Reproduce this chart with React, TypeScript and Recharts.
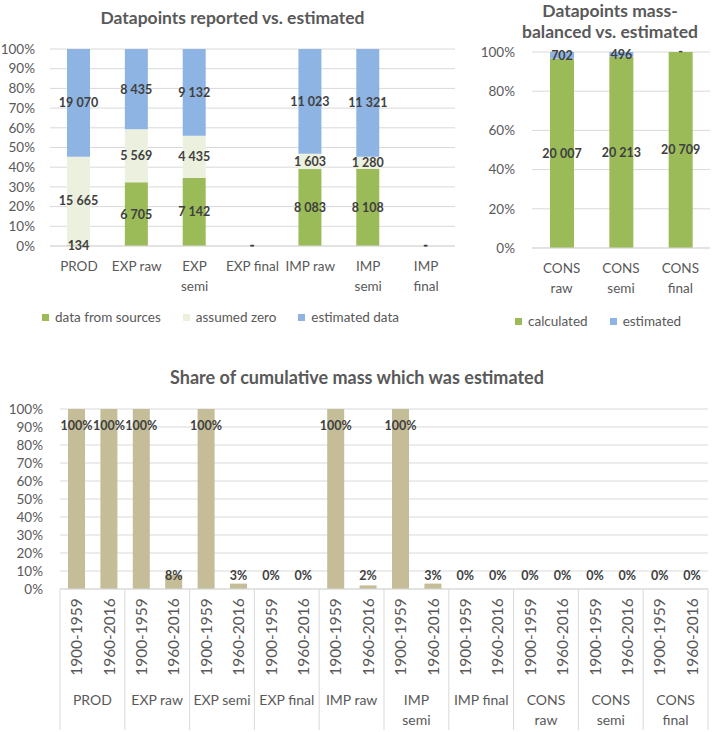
import React from 'react';
import { BarChart, Bar, XAxis, YAxis, CartesianGrid, Legend, LabelList } from 'recharts';

const FONT = 'Lato, "Open Sans", sans-serif';
const AXIS_GREY = '#595959';
const LABEL_GREY = '#404040';
const GRID = '#D9D9D9';

// top-left: datapoints reported vs. estimated
const reportedCats = ['PROD', 'EXP raw', 'EXP\nsemi', 'EXP final', 'IMP raw', 'IMP\nsemi', 'IMP\nfinal'];
const fromSources = [134, 6705, 7142, 0, 8083, 8108, 0];
const assumedZero = [15665, 5569, 4435, 0, 1603, 1280, 0];
const estimatedData = [19070, 8435, 9132, 0, 11023, 11321, 0];

// top-right: mass-balanced vs. estimated
const consCats = ['CONS\nraw', 'CONS\nsemi', 'CONS\nfinal'];
const calculated = [20007, 20213, 20709];
const consEstimated = [702, 496, 0];

// bottom: share of cumulative mass estimated
const groups = ['PROD', 'EXP raw', 'EXP semi', 'EXP final', 'IMP raw', 'IMP\nsemi', 'IMP final', 'CONS\nraw', 'CONS\nsemi', 'CONS\nfinal'];
const periods = ['1900-1959', '1960-2016'];
const shareEstimated = [1, 1, 1, 0.08, 1, 0.03, 0, 0, 1, 0.02, 1, 0.03, 0, 0, 0, 0, 0, 0, 0, 0];

const pct10 = [0, 0.1, 0.2, 0.3, 0.4, 0.5, 0.6, 0.7, 0.8, 0.9, 1];
const pct20 = [0, 0.2, 0.4, 0.6, 0.8, 1];

const reportedData = reportedCats.map((c, i) => ({
  name: c, sources: fromSources[i], zero: assumedZero[i], estimated: estimatedData[i],
}));
const consData = consCats.map((c, i) => ({ name: c, calculated: calculated[i], estimated: consEstimated[i] }));
const shareData = groups.flatMap((g, gi) =>
  periods.map((p, pi) => ({ period: p, group: g, share: shareEstimated[gi * 2 + pi] })),
);

// thousands separated by a non-breaking space so labels do not wrap
const fmtNum = (v: any) => (Number(v) === 0 ? '-' : String(v).replace(/\B(?=(\d{3})+(?!\d))/g, '\u00A0'));
const fmtPct = (v: number) => `${Math.round(v * 100)}%`;

const MultiLineTick = ({ x, y, payload }: any) => {
  const lines = String(payload.value).split('\n');
  return (
    <text x={x} y={y} textAnchor="middle" fill={AXIS_GREY} fontSize={13.5} fontFamily={FONT}>
      {lines.map((l, i) => (
        <tspan key={i} x={x} dy={i === 0 ? 25 : 20}>{l}</tspan>
      ))}
    </text>
  );
};

const BOTTOM_SLOT = (714 - 60 - 6) / 20;

const GroupedTick = ({ x, y, payload }: any) => {
  const idx = payload.index;
  const first = idx % 2 === 0;
  const groupLines = String(groups[Math.floor(idx / 2)]).split('\n');
  return (
    <g>
      <text
        x={x} y={y + 48} transform={`rotate(-90, ${x}, ${y + 48})`}
        textAnchor="middle" dominantBaseline="central" fill={AXIS_GREY} fontSize={15.5} fontFamily={FONT}
      >
        {payload.value}
      </text>
      {first && (
        <>
          <line x1={x - BOTTOM_SLOT / 2} x2={x - BOTTOM_SLOT / 2} y1={y} y2={y + 141} stroke={GRID} />
          <text x={x + BOTTOM_SLOT / 2} y={y} textAnchor="middle" fill={AXIS_GREY} fontSize={14} fontFamily={FONT}>
            {groupLines.map((l, i) => (
              <tspan key={i} x={x + BOTTOM_SLOT / 2} dy={i === 0 ? 116 : 20}>{l}</tspan>
            ))}
          </text>
        </>
      )}
      {idx === shareData.length - 1 && (
        <line x1={x + BOTTOM_SLOT / 2} x2={x + BOTTOM_SLOT / 2} y1={y} y2={y + 141} stroke={GRID} />
      )}
    </g>
  );
};

const ShareLabel = (props: any) => {
  const { x, y, width, height, value } = props;
  const cy = value >= 0.5 ? y + 16 : y + height - 14;
  return (
    <text x={x + width / 2} y={cy} textAnchor="middle" dominantBaseline="central"
      fill={LABEL_GREY} fontSize={12.5} fontWeight="bold" fontFamily={FONT}>
      {fmtPct(value)}
    </text>
  );
};

const legendContent = (gap: number, order: string[]) => (props: any) => {
  const items = [...(props.payload || [])].sort((a: any, b: any) => order.indexOf(a.value) - order.indexOf(b.value));
  return (
    <div style={{ display: 'flex', gap, fontFamily: FONT, fontSize: 13.5, color: AXIS_GREY, whiteSpace: 'nowrap' }}>
      {items.map((p: any) => (
        <span key={p.value} style={{ display: 'flex', alignItems: 'center' }}>
          <span style={{ display: 'inline-block', width: 7, height: 7, background: p.color, marginRight: 6 }} />
          {p.value}
        </span>
      ))}
    </div>
  );
};

const labelStyle = { fill: LABEL_GREY, fontSize: 12.5, fontWeight: 'bold', fontFamily: FONT } as any;
const tickStyle = { fill: AXIS_GREY, fontSize: 13.5, fontFamily: FONT };
const titleStyle: React.CSSProperties = {
  position: 'absolute', fontFamily: FONT, fontWeight: 'bold', fontSize: 17.5, color: AXIS_GREY,
  textAlign: 'center', lineHeight: '21px', whiteSpace: 'nowrap',
};

export default function App() {
  return (
    <div style={{ position: 'absolute', left: 0, top: 0, width: 714, height: 732, background: '#fff' }}>
      <div style={{ ...titleStyle, left: 0, width: 465, top: 7 }}>Datapoints reported vs. estimated</div>
      <div style={{ ...titleStyle, left: 490, width: 240, top: 0 }}>Datapoints mass-<br />balanced vs. estimated</div>
      <div style={{ ...titleStyle, left: 0, width: 714, top: 367, fontSize: 18 }}>Share of cumulative mass which was estimated</div>

      <div style={{ position: 'absolute', left: 0, top: 0 }}>
        <BarChart width={470} height={340} data={reportedData} stackOffset="expand"
          margin={{ top: 49, right: 15, left: 0, bottom: 0 }} barSize={23}>
          <CartesianGrid vertical={false} stroke={GRID} />
          <XAxis dataKey="name" height={94} tickSize={0} tickMargin={0} axisLine={{ stroke: GRID }}
            tick={<MultiLineTick />} interval={0} />
          <YAxis width={50} domain={[0, 1]} ticks={pct10} interval={0} tickFormatter={fmtPct} tickSize={0}
            tickMargin={15} axisLine={false} tick={tickStyle} />
          <Legend verticalAlign="middle" align="center"
            content={legendContent(22, ['data from sources', 'assumed zero', 'estimated data'])}
            wrapperStyle={{ left: 42, top: 309, width: 420, height: 18 }} />
          <Bar dataKey="sources" name="data from sources" stackId="a" fill="#9BBB59" minPointSize={0.01}
            isAnimationActive={false}>
            <LabelList dataKey="sources" position="center" formatter={fmtNum} style={labelStyle} />
          </Bar>
          <Bar dataKey="zero" name="assumed zero" stackId="a" fill="#EBF1DE" minPointSize={0.01}
            isAnimationActive={false}>
            <LabelList dataKey="zero" position="center" formatter={fmtNum} style={labelStyle} />
          </Bar>
          <Bar dataKey="estimated" name="estimated data" stackId="a" fill="#8EB4E3" minPointSize={0.01}
            isAnimationActive={false}>
            <LabelList dataKey="estimated" position="center" formatter={fmtNum} style={labelStyle} />
          </Bar>
        </BarChart>
      </div>

      <div style={{ position: 'absolute', left: 470, top: 0 }}>
        <BarChart width={244} height={340} data={consData} stackOffset="expand"
          margin={{ top: 52, right: 4, left: 0, bottom: 0 }} barSize={24}>
          <CartesianGrid vertical={false} stroke={GRID} />
          <XAxis dataKey="name" height={92} tickSize={0} tickMargin={0} axisLine={{ stroke: GRID }}
            tick={<MultiLineTick />} interval={0} />
          <YAxis width={62} domain={[0, 1]} ticks={pct20} interval={0} tickFormatter={fmtPct} tickSize={0}
            tickMargin={17} axisLine={false} tick={tickStyle} />
          <Legend verticalAlign="middle" align="center"
            content={legendContent(22, ['calculated', 'estimated'])}
            wrapperStyle={{ left: 45, top: 313, width: 200, height: 18 }} />
          <Bar dataKey="calculated" name="calculated" stackId="a" fill="#9BBB59" minPointSize={0.01}
            isAnimationActive={false}>
            <LabelList dataKey="calculated" position="center" formatter={fmtNum} style={labelStyle} />
          </Bar>
          <Bar dataKey="estimated" name="estimated" stackId="a" fill="#8EB4E3" minPointSize={0.01}
            isAnimationActive={false}>
            <LabelList dataKey="estimated" position="center" formatter={fmtNum} style={labelStyle} />
          </Bar>
        </BarChart>
      </div>

      <div style={{ position: 'absolute', left: 0, top: 360 }}>
        <BarChart width={714} height={372} data={shareData}
          margin={{ top: 49, right: 6, left: 0, bottom: 0 }} barSize={17}>
          <CartesianGrid vertical={false} stroke={GRID} />
          <XAxis dataKey="period" height={143} tickSize={0} tickMargin={0} axisLine={{ stroke: GRID }}
            tick={<GroupedTick />} interval={0} />
          <YAxis width={60} domain={[0, 1]} ticks={pct10} interval={0} tickFormatter={fmtPct} tickSize={0}
            tickMargin={17} axisLine={false} tick={tickStyle} />
          <Bar dataKey="share" fill="#C4BD97" minPointSize={0.01} isAnimationActive={false}>
            <LabelList dataKey="share" content={<ShareLabel />} />
          </Bar>
        </BarChart>
      </div>
    </div>
  );
}
